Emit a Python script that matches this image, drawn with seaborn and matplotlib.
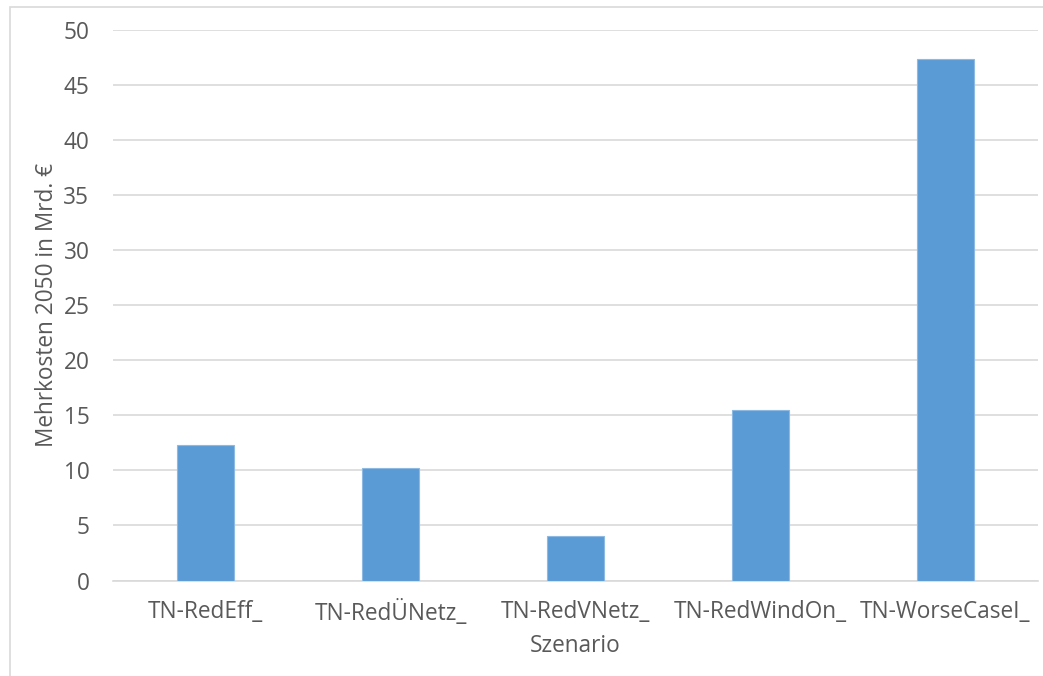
import matplotlib
matplotlib.use("Agg")
import matplotlib.pyplot as plt
import seaborn as sns
import pandas as pd
from matplotlib.patches import Rectangle

scenarios = ["TN-RedEff_", "TN-RedÜNetz_", "TN-RedVNetz_", "TN-RedWindOn_", "TN-WorseCaseI_"]
mehrkosten = [12.35, 10.25, 4.05, 15.45, 47.35]
y_ticks = [0, 5, 10, 15, 20, 25, 30, 35, 40, 45, 50]

sns.set_theme(style="white")
plt.rcParams["font.family"] = ["Open Sans", "DejaVu Sans"]

W, H = 1043, 676
fig = plt.figure(figsize=(W / 100, H / 100), dpi=100)
ax = fig.add_axes([113 / W, 1 - 580.5 / H, 925 / W, 550.5 / H])

df = pd.DataFrame({"Szenario": scenarios, "Mehrkosten": mehrkosten})
sns.barplot(data=df, x="Szenario", y="Mehrkosten", color="#5B9BD5",
            saturation=1, width=0.31, ax=ax, zorder=3,
            edgecolor="#8DB9E3", linewidth=0.8)

text_color = "#595959"
fs = 16.3
ax.set_ylim(0, 50)
ax.set_xlim(-0.5, len(scenarios) - 0.5)
ax.set_yticks(y_ticks)
ax.set_yticklabels([str(t) for t in y_ticks])
ax.yaxis.grid(True, color="#D9D9D9", linewidth=1.2, zorder=0)
ax.xaxis.grid(False)
for s in ["top", "right", "left"]:
    ax.spines[s].set_visible(False)
ax.spines["bottom"].set_color("#D9D9D9")
ax.spines["bottom"].set_linewidth(1.2)
ax.tick_params(axis="both", length=0, colors=text_color, labelsize=fs)
ax.tick_params(axis="y", pad=17)
ax.tick_params(axis="x", pad=14)

ax.set_xlabel("Szenario", fontsize=fs, color=text_color, labelpad=6)
ax.set_ylabel("Mehrkosten 2050 in Mrd. €", fontsize=fs, color=text_color, labelpad=3)

# chart area border
fig.patches.append(Rectangle((10 / W, -0.1), 1.2, 1 - 7 / H + 0.1,
                             transform=fig.transFigure, fill=False,
                             edgecolor="#D9D9D9", linewidth=1.2))

fig.savefig("out.png", dpi=100)
